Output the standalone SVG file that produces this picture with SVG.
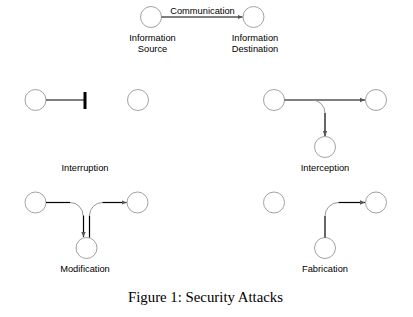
<svg xmlns="http://www.w3.org/2000/svg" width="413" height="317" viewBox="0 0 413 317">
<defs>
<style>
.node{fill:#fff;stroke:#8a8a8a;stroke-width:0.8}
.ln{fill:none;stroke:#000;stroke-width:1.2}
.arc{fill:none;stroke:#8a8a8a;stroke-width:0.9}
.lbl{font-family:"Liberation Sans",Arial,sans-serif;font-size:9.3px;fill:#000;text-anchor:middle}
.cap{font-family:"Liberation Serif","Times New Roman",serif;font-size:14px;fill:#000}
</style>
<marker id="ah" markerWidth="6" markerHeight="6" refX="5" refY="3" orient="auto" markerUnits="userSpaceOnUse">
<path d="M0,0.8 L5,3 L0,5.2 z" fill="#555"/>
</marker>
</defs>
<rect width="413" height="317" fill="#fff"/>

<g id="nodes">
<g id="src"><circle class="node" cx="151" cy="17" r="10.5"/></g>
<g id="dst"><circle class="node" cx="253.5" cy="17" r="10.5"/></g>
<g id="int-a"><circle class="node" cx="35.5" cy="100" r="10.5"/></g>
<g id="int-b"><circle class="node" cx="138" cy="100" r="10.5"/></g>
<g id="icp-a"><circle class="node" cx="274" cy="100" r="10.5"/></g>
<g id="icp-b"><circle class="node" cx="376" cy="100" r="10.5"/></g>
<g id="icp-c"><circle class="node" cx="325" cy="147" r="10.5"/></g>
<g id="mod-a"><circle class="node" cx="35.5" cy="202.5" r="10.5"/></g>
<g id="mod-b"><circle class="node" cx="137.5" cy="202.5" r="10.5"/></g>
<g id="mod-c"><circle class="node" cx="86.5" cy="248" r="10.5"/></g>
<g id="fab-a"><circle class="node" cx="274" cy="202.5" r="10.5"/></g>
<g id="fab-b"><circle class="node" cx="376" cy="202.5" r="10.5"/></g>
<g id="fab-c"><circle class="node" cx="325" cy="248" r="10.5"/></g>
</g>

<g id="connectors">
<line class="ln" x1="161.5" y1="17" x2="242.5" y2="17" marker-end="url(#ah)"/>
<line class="ln" x1="46" y1="100" x2="84" y2="100"/>
<line x1="85" y1="92" x2="85" y2="109" stroke="#000" stroke-width="3"/>
<line class="ln" x1="284.5" y1="100" x2="365" y2="100" marker-end="url(#ah)"/>
<path class="arc" d="M312,100 A13,13 0 0 1 325,113"/>
<line class="ln" x1="325" y1="113" x2="325" y2="136" marker-end="url(#ah)"/>
<line class="ln" x1="46" y1="202.5" x2="70" y2="202.5"/>
<path class="arc" d="M70,202.5 A13,13 0 0 1 83,215.5"/>
<line class="ln" x1="83.5" y1="215.5" x2="83.5" y2="237" marker-end="url(#ah)"/>
<line class="ln" x1="89.5" y1="237.5" x2="89.5" y2="215.5"/>
<path class="arc" d="M89.5,215.5 A13,13 0 0 1 102.5,202.5"/>
<line class="ln" x1="102.5" y1="202.5" x2="126.5" y2="202.5" marker-end="url(#ah)"/>
<line class="ln" x1="325" y1="237.5" x2="325" y2="216"/>
<path class="arc" d="M325,216 A13.5,13.5 0 0 1 338.5,202.5"/>
<line class="ln" x1="338.5" y1="202.5" x2="365" y2="202.5" marker-end="url(#ah)"/>
</g>

<g id="labels">
<text class="lbl" x="202.5" y="14">Communication</text>
<text class="lbl" x="152.5" y="40.5">Information</text>
<text class="lbl" x="152.5" y="51.5">Source</text>
<text class="lbl" x="255" y="40.5">Information</text>
<text class="lbl" x="255" y="51.5">Destination</text>
<text class="lbl" x="85" y="171">Interruption</text>
<text class="lbl" x="325" y="171">Interception</text>
<text class="lbl" x="85" y="272">Modification</text>
<text class="lbl" x="325" y="272">Fabrication</text>
<text class="cap" x="128" y="302" textLength="155" lengthAdjust="spacingAndGlyphs">Figure 1: Security Attacks</text>
</g>
</svg>
